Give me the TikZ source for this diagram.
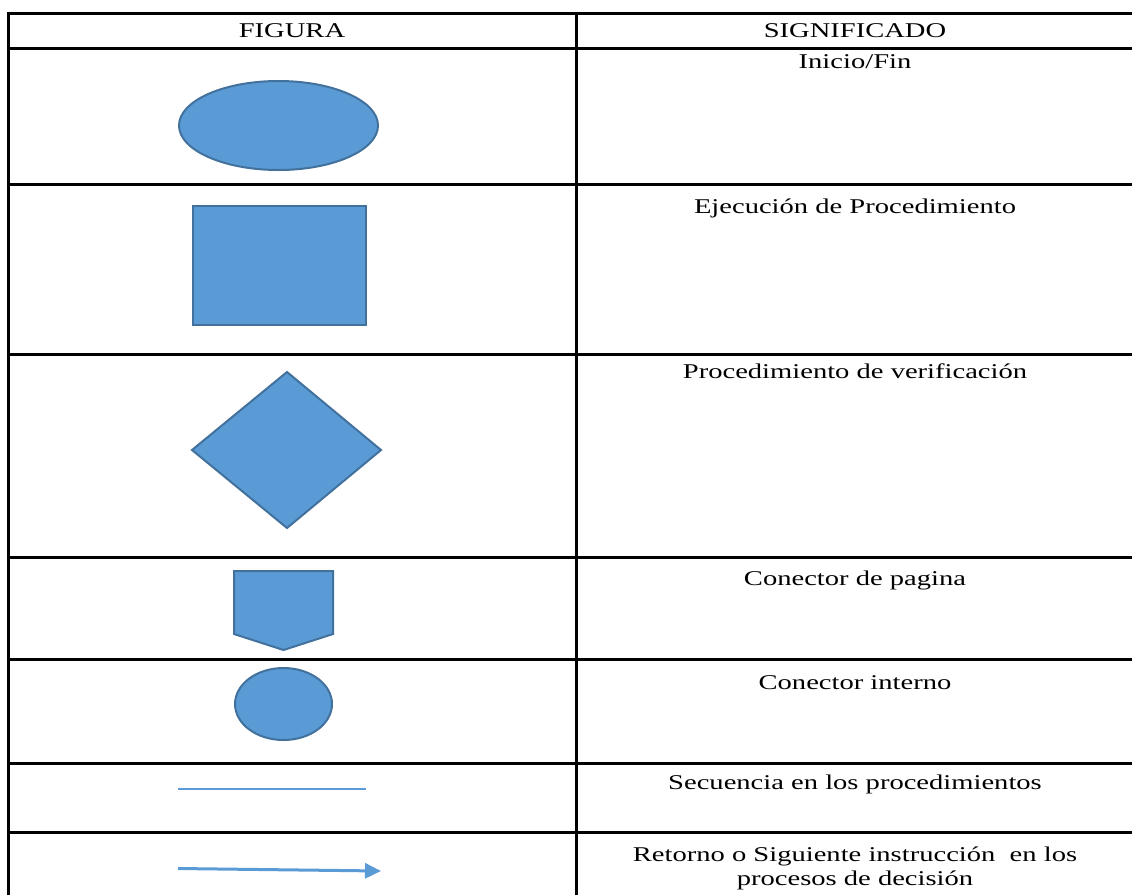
\documentclass[tikz,border=0pt]{standalone}
\usepackage{fontspec}
\usepackage{graphicx}
\setmainfont{Liberation Serif}
\usetikzlibrary{shapes.geometric,arrows.meta}
\definecolor{shapefill}{HTML}{5B9BD5}
\definecolor{shapeline}{HTML}{41719C}
\newcommand\stretchtxt[1]{\scalebox{1.36}[1]{#1}}
\tikzset{
  grid/.style={line width=3pt, black},
  blueshape/.style={fill=shapefill, draw=shapeline, line width=2pt},
  label/.style={anchor=base, inner sep=0pt, font=\fontsize{21}{24}\selectfont},
}
\begin{document}
\begin{tikzpicture}[x=1pt,y=-1pt]
\useasboundingbox (0,0) rectangle (1132,895);
% table grid
\foreach \yy in {13,48,184,354,557,659,763,832}
  \draw[grid] (8.5,\yy) -- (1132,\yy);
\draw[grid] (8.5,11.5) -- (8.5,895);
\draw[grid] (576,11.5) -- (576,895);
% headers
\node[label] (hfig) at (292,37) {\stretchtxt{FIGURA}};
\node[label] (hsig) at (855,37) {\stretchtxt{SIGNIFICADO}};
% meanings
\node[label] (t1) at (855,68) {\stretchtxt{Inicio/Fin}};
\node[label] (t2) at (855,213) {\stretchtxt{Ejecución de Procedimiento}};
\node[label] (t3) at (855,378) {\stretchtxt{Procedimiento de verificación}};
\node[label] (t4) at (855,585) {\stretchtxt{Conector de pagina}};
\node[label] (t5) at (855,689) {\stretchtxt{Conector interno}};
\node[label] (t6) at (855,789) {\stretchtxt{Secuencia en los procedimientos}};
\node[label] (t7) at (855,861) {\stretchtxt{Retorno o Siguiente instrucción\ \ en los}};
\node[label] (t7b) at (855,885) {\stretchtxt{procesos de decisión}};
% shapes
\node[blueshape, ellipse, minimum width=199pt, minimum height=89pt, inner sep=0pt] (ell) at (278.5,125.5) {};
\node[blueshape, rectangle, minimum width=173pt, minimum height=119pt, inner sep=0pt] (rect) at (279.5,265.5) {};
\draw[blueshape] (287,372) -- (381,450) -- (287,528) -- (192,450) -- cycle;
\draw[blueshape] (234,571) -- (333,571) -- (333,634) -- (283.5,650) -- (234,634) -- cycle;
\node[blueshape, ellipse, minimum width=97pt, minimum height=72pt, inner sep=0pt] (circ) at (283.5,704) {};
% connectors
\coordinate (l1) at (178,789);
\coordinate (l2) at (366,789);
\draw[shapefill, line width=2pt] (l1) -- (l2);
\coordinate (a1) at (178,868.5);
\coordinate (a2) at (381,871);
\draw[shapefill, line width=3pt, -{Triangle[length=16pt,width=15pt]}] (a1) -- (a2);
\end{tikzpicture}
\end{document}
